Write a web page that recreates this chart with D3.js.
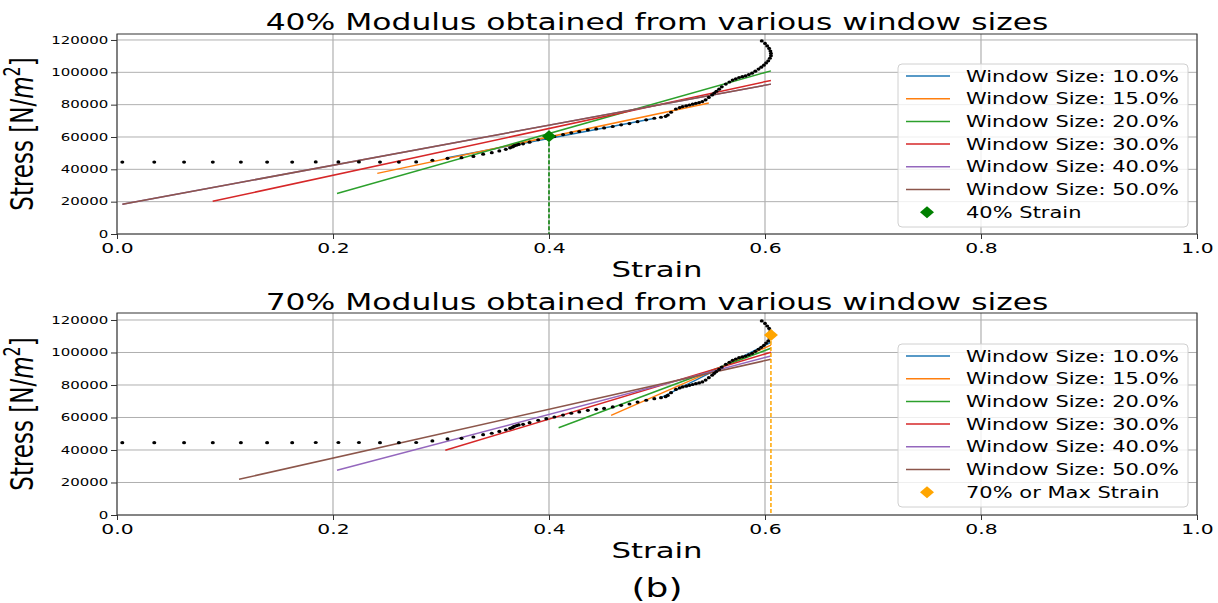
<!DOCTYPE html>
<html><head><meta charset="utf-8">
<script src="https://cdn.jsdelivr.net/npm/d3@7"></script>
<style>body{margin:0;background:#fff}svg{display:block}text{font-family:"DejaVu Sans",sans-serif;fill:#000}</style>
</head><body>
<script>
// ---------- data ----------
const dataStrain = [0.0049,0.0345,0.0621,0.0887,0.1147,0.139,0.1622,0.184,0.205,0.224,0.2435,0.261,0.277,0.292,0.306,0.319,0.330,0.339,0.347,0.354,0.360,0.364,0.366,0.367,0.368,0.370,0.372,0.376,0.382,0.390,0.3975,0.405,0.413,0.4206,0.428,0.436,0.4437,0.451,0.459,0.4668,0.4745,0.482,0.490,0.4975,0.5037,0.508,0.510,0.513,0.5175,0.521,0.5237,0.527,0.530,0.533,0.536,0.539,0.542,0.545,0.548,0.551,0.553,0.555,0.5575,0.560,0.5637,0.567,0.570,0.573,0.576,0.579,0.582,0.585,0.588,0.591,0.594,0.5965,0.599,0.601,0.603,0.6045,0.6055,0.6055,0.605,0.6038,0.602,0.600,0.597];
const dataStress = [44500,44500,44500,44500,44500,44500,44500,44600,44600,44600,44500,44500,44600,45600,46800,47200,48000,49400,50300,51400,52400,53300,53800,54200,54600,55000,55400,55800,56800,58300,59300,60300,61500,62600,63400,64400,65000,65600,66500,67500,68300,69500,70600,71600,72200,72800,73600,75300,77300,78200,78800,79300,79800,80300,80800,81300,81900,83000,84500,86000,87200,88300,89600,91000,92700,94000,95200,96000,96800,97300,97800,98600,99500,100700,102000,103200,104400,105800,107100,108700,110200,111700,113200,114800,116300,117900,119400];

const windowLabels = ["Window Size: 10.0%","Window Size: 15.0%","Window Size: 20.0%","Window Size: 30.0%","Window Size: 40.0%","Window Size: 50.0%"];
const windowColors = ["#1f77b4","#ff7f0e","#2ca02c","#d62728","#9467bd","#8c564b"];

// fit lines for 40% modulus: [start, end]
const fit40Strain = [[0.305,0.497],[0.241,0.548],[0.2037,0.6055],[0.0886,0.6055],[0.005,0.6055],[0.005,0.6055]];
const fit40Stress = [[47000,71500],[37500,81000],[25100,100900],[20200,95000],[18400,92700],[18400,92700]];
// fit lines for 70% modulus
const fit70Strain = [[0.5037,0.6055],[0.4575,0.6055],[0.4089,0.6055],[0.304,0.6055],[0.2037,0.6055],[0.113,0.6055]];
const fit70Stress = [[72200,106300],[61300,104500],[53700,102600],[39800,100200],[27500,97900],[22000,95800]];

const marker40 = {strain:0.4, stress:60500, label:"40% Strain", color:"green"};
const marker70 = {strain:0.6055, stress:110800, label:"70% or Max Strain", color:"orange"};

const xTicks = [0,0.2,0.4,0.6,0.8,1.0];
const xTickLabels = ["0.0","0.2","0.4","0.6","0.8","1.0"];
const yTicks = [0,20000,40000,60000,80000,100000,120000];
const titles = ["40% Modulus obtained from various window sizes","70% Modulus obtained from various window sizes"];

// ---------- layout ----------
const W = 1218, H = 603, SX = 1.4;
const svg = d3.select("body").append("svg").attr("width", W).attr("height", H);

function stretchText(parent, x, y, str, size, anchor, sx) {
  return parent.append("text")
    .attr("transform", `translate(${x},${y}) scale(${sx},1)`)
    .attr("font-size", size).attr("text-anchor", anchor).text(str);
}

const panels = [
  {top:34, bottom:234, ymax:123700, title:titles[0], fitX:fit40Strain, fitY:fit40Stress, marker:marker40, titleY:30, legendTop:64},
  {top:313, bottom:515, ymax:124300, title:titles[1], fitX:fit70Strain, fitY:fit70Stress, marker:marker70, titleY:310, legendTop:344}
];
const left = 117, right = 1197;

function diamondPath(w, h) {
  return `M0,${-h}L${w},0L0,${h}L${-w},0Z`;
}

panels.forEach(p => {
  const x = d3.scaleLinear().domain([0,1]).range([left,right]);
  const y = d3.scaleLinear().domain([0,p.ymax]).range([p.bottom,p.top]);
  const g = svg.append("g");

  // grid
  g.append("g").selectAll("line").data(xTicks).join("line")
    .attr("x1", d=>x(d)).attr("x2", d=>x(d)).attr("y1", p.top).attr("y2", p.bottom)
    .attr("stroke", "#b0b0b0").attr("stroke-width", 1.2);
  g.append("g").selectAll("line").data(yTicks).join("line")
    .attr("x1", left).attr("x2", right).attr("y1", d=>y(d)).attr("y2", d=>y(d))
    .attr("stroke", "#b0b0b0").attr("stroke-width", 1);

  // axes
  const ya = g.append("g").attr("transform", `translate(${left},0)`)
    .call(d3.axisLeft(y).tickValues(yTicks).tickSize(6).tickFormat(d3.format("d")));
  ya.select(".domain").remove();
  ya.selectAll("line").attr("stroke", "#333");
  ya.selectAll("text").attr("x", null).attr("dy", "0.3em")
    .attr("transform", `translate(-8.7,0) scale(${SX},1)`)
    .attr("font-size", 10.7).attr("fill", "#111").attr("font-family", "DejaVu Sans");

  const xa = g.append("g").attr("transform", `translate(0,${p.bottom})`)
    .call(d3.axisBottom(x).tickValues(xTicks).tickSize(5).tickFormat((d,i)=>xTickLabels[i]));
  xa.select(".domain").remove();
  xa.selectAll("line").attr("stroke", "#333");
  xa.selectAll("text").attr("y", null).attr("dy", null)
    .attr("transform", `translate(0,18.5) scale(${SX},1)`)
    .attr("font-size", 14.5).attr("fill", "#111").attr("font-family", "DejaVu Sans");

  // fit lines
  const fits = p.fitX.map((xs,i)=>({xs, ys:p.fitY[i], color:windowColors[i]}));
  g.append("g").selectAll("line").data(fits).join("line")
    .attr("x1", d=>x(d.xs[0])).attr("y1", d=>y(d.ys[0]))
    .attr("x2", d=>x(d.xs[1])).attr("y2", d=>y(d.ys[1]))
    .attr("stroke", d=>d.color).attr("stroke-width", 1.5);

  // data dots
  g.append("g").selectAll("ellipse").data(dataStrain.map((s,i)=>[s,dataStress[i]])).join("ellipse")
    .attr("cx", d=>x(d[0])).attr("cy", d=>y(d[1])).attr("rx", 2).attr("ry", 1.6).attr("fill", "#000");

  // dashed vertical marker line + diamond
  const m = p.marker;
  g.append("line").attr("x1", x(m.strain)).attr("x2", x(m.strain))
    .attr("y1", y(m.stress)).attr("y2", y(0))
    .attr("stroke", m.color).attr("stroke-width", 1.5).attr("stroke-dasharray", "4,2");
  g.append("path").attr("d", diamondPath(7,6))
    .attr("transform", `translate(${x(m.strain)},${y(m.stress)})`).attr("fill", m.color);

  // spines
  g.append("rect").attr("x", left).attr("y", p.top).attr("width", right-left).attr("height", p.bottom-p.top)
    .attr("fill", "none").attr("stroke", "#333").attr("stroke-width", 1);

  // title
  stretchText(svg, (left+right)/2, p.titleY, p.title, 22.4, "middle", SX);
  // x label
  stretchText(svg, (left+right)/2, p.bottom+43, "Strain", 22, "middle", SX);
  // y label
  const yl = svg.append("text")
    .attr("transform", `translate(33,${(p.top+p.bottom)/2}) scale(${SX},1) rotate(-90)`)
    .attr("font-size", 23).attr("text-anchor", "middle");
  yl.append("tspan").text("Stress [N/");
  yl.append("tspan").attr("font-style", "italic").text("m");
  yl.append("tspan").attr("font-size", 16).attr("dy", -9).text("2");
  yl.append("tspan").attr("dy", 9).text("]");

  // legend
  const lg = svg.append("g");
  const rowH = 22.7, top = p.legendTop;
  lg.append("rect").attr("x", 898).attr("y", top).attr("width", 290).attr("height", 163)
    .attr("rx", 4).attr("fill", "#fff").attr("fill-opacity", 0.8).attr("stroke", "#d0d0d0");
  windowLabels.forEach((lab,i) => {
    const cy = top + 12 + i*rowH;
    lg.append("line").attr("x1", 906).attr("x2", 950).attr("y1", cy).attr("y2", cy)
      .attr("stroke", windowColors[i]).attr("stroke-width", 1.5);
    stretchText(lg, 966, cy+5.5, lab, 15, "start", SX);
  });
  const cy = top + 12 + 6*rowH;
  lg.append("path").attr("d", diamondPath(7,6)).attr("transform", `translate(927,${cy})`).attr("fill", m.color);
  stretchText(lg, 966, cy+5.5, m.label, 15, "start", SX);
});

stretchText(svg, 657, 597, "(b)", 25.7, "middle", SX);
</script>
</body></html>
